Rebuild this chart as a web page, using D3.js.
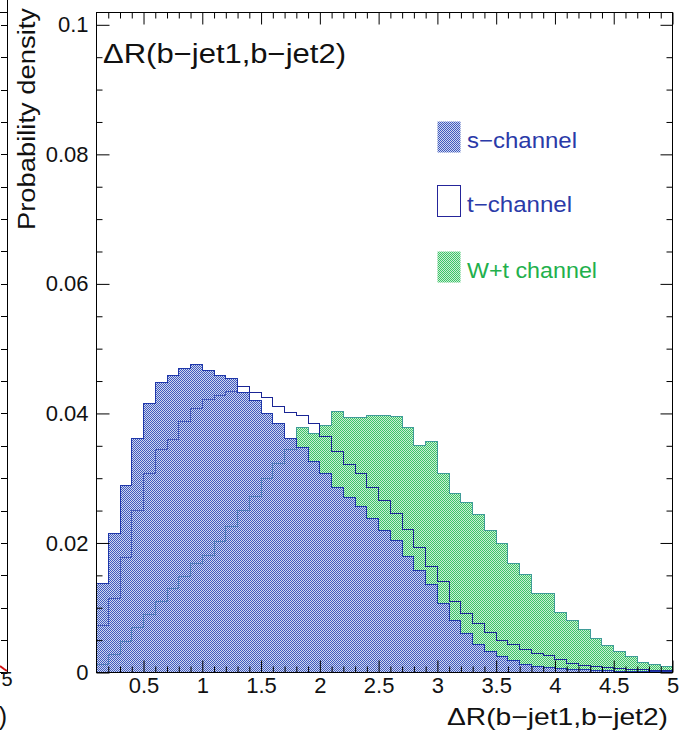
<!DOCTYPE html>
<html><head><meta charset="utf-8">
<script src="https://cdn.jsdelivr.net/npm/d3@7"></script>
<style>html,body{margin:0;padding:0;background:#fff;} svg{display:block;}</style>
</head><body>
<svg id="c" width="689" height="731"></svg>
<script>
// ---------- data ----------
const binLow = [0.1,0.2,0.3,0.4,0.5,0.6,0.7,0.8,0.9,1.0,1.1,1.2,1.3,1.4,1.5,1.6,1.7,1.8,1.9,2.0,
  2.1,2.2,2.3,2.4,2.5,2.6,2.7,2.8,2.9,3.0,3.1,3.2,3.3,3.4,3.5,3.6,3.7,3.8,3.9,4.0,
  4.1,4.2,4.3,4.4,4.5,4.6,4.7,4.8,4.9];
const binWidth = 0.1;
const sChannel = [0.0137,0.0214,0.0288,0.0362,0.0415,0.0447,0.0458,0.0469,0.0476,0.0467,
  0.0459,0.0454,0.0433,0.0420,0.0400,0.0384,0.0362,0.0348,0.0326,0.0308,
  0.0286,0.0270,0.0256,0.0237,0.0219,0.0204,0.0179,0.0158,0.0136,0.0107,
  0.0080,0.0060,0.0044,0.0032,0.0025,0.0018,0.0013,0.0010,0.0008,0.0006,
  0.0005,0.0004,0.0003,0.0003,0.0002,0.0002,0.0001,0.0001,0.0001];
const tChannel = [0.0072,0.0115,0.0177,0.0250,0.0308,0.0345,0.0359,0.0388,0.0408,0.0422,
  0.0428,0.0434,0.0442,0.0432,0.0424,0.0410,0.0401,0.0397,0.0385,0.0365,
  0.0341,0.0321,0.0307,0.0285,0.0266,0.0245,0.0221,0.0193,0.0163,0.0140,
  0.0110,0.0091,0.0075,0.0061,0.0049,0.0043,0.0036,0.0030,0.0027,0.0020,
  0.0014,0.0011,0.0009,0.0007,0.0006,0.0005,0.0004,0.0003,0.0003];
const wtChannel = [0.0012,0.0028,0.0048,0.0070,0.0090,0.0110,0.0130,0.0148,0.0168,0.0180,
  0.0203,0.0225,0.0250,0.0272,0.0300,0.0322,0.0345,0.0379,0.0369,0.0382,
  0.0403,0.0393,0.0394,0.0397,0.0397,0.0395,0.0379,0.0350,0.0356,0.0308,
  0.0277,0.0263,0.0244,0.0220,0.0199,0.0168,0.0151,0.0122,0.0122,0.0093,
  0.0080,0.0066,0.0053,0.0042,0.0032,0.0025,0.0016,0.0012,0.0009];
const xTickValues = [0.5,1,1.5,2,2.5,3,3.5,4,4.5,5];
const xTickLabels = ["0.5","1","1.5","2","2.5","3","3.5","4","4.5","5"];
const yTickValues = [0,0.02,0.04,0.06,0.08,0.1];
const yTickLabels = ["0","0.02","0.04","0.06","0.08","0.1"];
const legendLabels = ["s\u2212channel","t\u2212channel","W+t channel"];
const titleText = "\u0394R(b\u2212jet1,b\u2212jet2)";
const yTitleText = "Probability density";

// ---------- layout ----------
const L = 96.5, R = 672.5, T = 12.5, B = 672.5;
const svg = d3.select("#c");
const x = d3.scaleLinear().domain([0.1, 5]).range([L, R]);
const y = d3.scaleLinear().domain([0, 0.1019]).range([B, T]);
const FONT = "'Liberation Sans', Arial, Helvetica, sans-serif";

// patterns
const defs = svg.append("defs");
function checker(id, dark, light) {
  const p = defs.append("pattern").attr("id", id).attr("width", 2).attr("height", 2)
    .attr("patternUnits", "userSpaceOnUse");
  p.append("rect").attr("width", 2).attr("height", 2).attr("fill", light);
  p.append("rect").attr("x", 0).attr("y", 0).attr("width", 1).attr("height", 1).attr("fill", dark);
  p.append("rect").attr("x", 1).attr("y", 1).attr("width", 1).attr("height", 1).attr("fill", dark);
}
checker("patS", "#3f5abd", "rgba(140,160,220,0.42)");
checker("patW", "#3cc468", "rgba(130,215,155,0.42)");
defs.append("clipPath").attr("id", "frameClip").append("rect")
  .attr("x", L).attr("y", T).attr("width", R - L).attr("height", B - T);

function stepPoints(vals) {
  const pts = [[binLow[0], 0]];
  vals.forEach((v, i) => { pts.push([binLow[i], v]); pts.push([binLow[i] + binWidth, v]); });
  pts.push([binLow[binLow.length - 1] + binWidth, 0]);
  return pts;
}
const line = d3.line().x(d => x(d[0])).y(d => y(d[1]));

const plot = svg.append("g").attr("clip-path", "url(#frameClip)");
const sPath = line(stepPoints(sChannel)) + "Z";
const tPath = line(stepPoints(tChannel));
const wPath = line(stepPoints(wtChannel)) + "Z";

// t-channel outline (under green)
plot.append("path").attr("d", tPath).attr("fill", "none").attr("stroke", "#26268f")
  .attr("stroke-width", 1).attr("shape-rendering", "crispEdges");
// W+t fill
plot.append("path").attr("d", wPath).attr("fill", "url(#patW)").attr("stroke", "none");
plot.append("path").attr("d", wPath).attr("fill", "none").attr("stroke", "#1ea84a")
  .attr("stroke-width", 1).attr("shape-rendering", "crispEdges");
// s-channel base, then lines seen through, then pattern
plot.append("path").attr("d", sPath).attr("fill", "#fff");
plot.append("path").attr("d", wPath).attr("fill", "none").attr("stroke", "#3f9c98")
  .attr("stroke-width", 1).attr("shape-rendering", "crispEdges");
plot.append("path").attr("d", tPath).attr("fill", "none").attr("stroke", "#1a2595")
  .attr("stroke-width", 1).attr("shape-rendering", "crispEdges");
plot.append("path").attr("d", sPath).attr("fill", "url(#patS)").attr("stroke", "#1f37aa")
  .attr("stroke-width", 1).attr("shape-rendering", "crispEdges");

// ---------- axes (ticks inside frame) ----------
const xMinor = d3.range(2, 50).map(k => k / 10).filter(v => Math.abs(v * 2 - Math.round(v * 2)) > 1e-6);
const yMinor = d3.range(1, 21).map(k => k * 0.005).filter(v => Math.abs(v / 0.02 - Math.round(v / 0.02)) > 1e-6);

function styleAxis(g) {
  g.select(".domain").remove();
  g.attr("font-size", null).attr("font-family", null);
  g.selectAll("line").attr("stroke", "#000").attr("stroke-width", 1);
  g.selectAll("text").style("font-family", FONT).style("font-size", "22px").attr("fill", "#111");
}
svg.append("g").attr("transform", `translate(0,${B})`)
  .call(d3.axisBottom(x).tickValues(xTickValues).tickSize(-12).tickPadding(5)
    .tickFormat((d, i) => xTickLabels[i])).call(styleAxis);
svg.append("g").attr("transform", `translate(0,${B})`)
  .call(d3.axisBottom(x).tickValues(xMinor).tickSize(-6).tickFormat("")).call(styleAxis);
svg.append("g").attr("transform", `translate(0,${T})`)
  .call(d3.axisTop(x).tickValues(xTickValues).tickSize(-12).tickFormat("")).call(styleAxis);
svg.append("g").attr("transform", `translate(0,${T})`)
  .call(d3.axisTop(x).tickValues(xMinor).tickSize(-6).tickFormat("")).call(styleAxis);
svg.append("g").attr("transform", `translate(${L},0)`)
  .call(d3.axisLeft(y).tickValues(yTickValues).tickSize(-13).tickPadding(8)
    .tickFormat((d, i) => yTickLabels[i])).call(styleAxis);
svg.append("g").attr("transform", `translate(${L},0)`)
  .call(d3.axisLeft(y).tickValues(yMinor).tickSize(-6).tickFormat("")).call(styleAxis);
svg.append("g").attr("transform", `translate(${R},0)`)
  .call(d3.axisRight(y).tickValues(yTickValues).tickSize(-12).tickFormat("")).call(styleAxis);
svg.append("g").attr("transform", `translate(${R},0)`)
  .call(d3.axisRight(y).tickValues(yMinor).tickSize(-6).tickFormat("")).call(styleAxis);

// frame
svg.append("rect").attr("x", L).attr("y", T).attr("width", R - L).attr("height", B - T)
  .attr("fill", "none").attr("stroke", "#000").attr("stroke-width", 1);

// titles
svg.append("text").attr("x", 103).attr("y", 63).attr("font-family", FONT).attr("font-size", 27)
  .attr("fill", "#111").attr("textLength", 243).attr("lengthAdjust", "spacingAndGlyphs").text(titleText);
svg.append("text").attr("x", 668).attr("y", 725).attr("text-anchor", "end").attr("font-family", FONT)
  .attr("fill", "#111").attr("font-size", 24).attr("textLength", 221).attr("lengthAdjust", "spacingAndGlyphs").text(titleText);

// legend
const leg = [
  { fill: "url(#patS)", stroke: "none", color: "#2a3aa8", y: 121 },
  { fill: "#fff", stroke: "#25259a", color: "#2a3aa8", y: 185 },
  { fill: "url(#patW)", stroke: "none", color: "#22b04c", y: 251 }
];
leg.forEach((e, i) => {
  svg.append("rect").attr("x", 437.5).attr("y", e.y + 0.5).attr("width", 23).attr("height", 31)
    .attr("fill", e.fill).attr("stroke", e.stroke).attr("stroke-width", 1);
  svg.append("text").attr("x", 467).attr("y", e.y + 27).attr("font-family", FONT)
    .attr("font-size", 22).attr("fill", e.color)
    .attr("textLength", i === 2 ? 130 : (i === 0 ? 110 : 105)).attr("lengthAdjust", "spacingAndGlyphs")
    .text(legendLabels[i]);
});

// fragment of neighbouring pad on the left
const frag = svg.append("g");
frag.append("line").attr("x1", 7.5).attr("x2", 7.5).attr("y1", 0).attr("y2", B).attr("stroke", "#000");
frag.append("line").attr("x1", 0).attr("x2", 7.5).attr("y1", T).attr("y2", T).attr("stroke", "#000");
frag.append("line").attr("x1", 0).attr("x2", 7.5).attr("y1", B).attr("y2", B).attr("stroke", "#000");
yMinor.concat(yTickValues).forEach(v => {
  frag.append("line").attr("x1", 1).attr("x2", 7.5).attr("y1", Math.round(y(v)) + 0.5)
    .attr("y2", Math.round(y(v)) + 0.5).attr("stroke", "#000");
});
frag.append("path").attr("d", "M0,666 L4,669 L7,671").attr("fill", "none").attr("stroke", "#d01010").attr("stroke-width", 2);
frag.append("text").attr("x", 7).attr("y", 686).attr("text-anchor", "middle").attr("font-family", FONT)
  .attr("font-size", 20).attr("fill", "#111").text("5");
frag.append("text").attr("x", 7).attr("y", 725).attr("text-anchor", "end").attr("font-family", FONT)
  .attr("font-size", 25).attr("fill", "#111").text(")");
frag.append("text").attr("transform", "translate(35,230) rotate(-90)").attr("font-family", FONT)
  .attr("font-size", 23).attr("fill", "#111").attr("textLength", 222).attr("lengthAdjust", "spacingAndGlyphs")
  .text(yTitleText);
</script>
</body></html>
